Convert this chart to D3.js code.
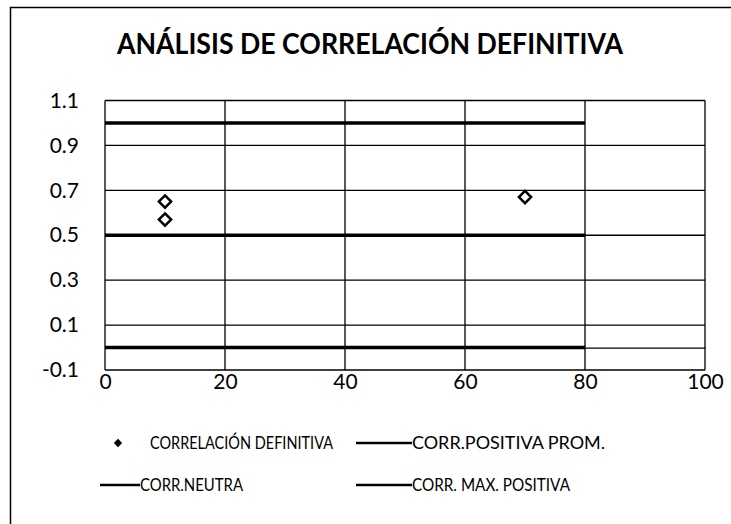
<!DOCTYPE html>
<html>
<head>
  <meta charset="utf-8">
  <title>Análisis de correlación definitiva</title>
  <script src="https://cdn.jsdelivr.net/npm/d3@7"></script>
  <style>
    body { margin: 0; background: #fff; }
    svg { display: block; font-family: Lato, "Open Sans", sans-serif; }
  </style>
</head>
<body>
<script>

// chart data
var title = "ANÁLISIS DE CORRELACIÓN DEFINITIVA";
var xTicks = [0, 20, 40, 60, 80, 100];
var yTicks = [-0.1, 0.1, 0.3, 0.5, 0.7, 0.9, 1.1];

var defX = [10, 10, 70];
var defY = [0.65, 0.57, 0.67];

var lineX = [0, 80];
var promY = [0.5, 0.5];     // CORR.POSITIVA PROM.
var neutraY = [0, 0];       // CORR.NEUTRA
var maxY = [1, 1];          // CORR. MAX. POSITIVA

var legendNames = ["CORRELACIÓN DEFINITIVA", "CORR.POSITIVA PROM.", "CORR.NEUTRA", "CORR. MAX. POSITIVA"];

var width = 731,
    height = 524;

var svg = d3.select("body").append("svg")
    .attr("width", width)
    .attr("height", height);

// outer frame (only top and left show in the scan)
svg.append("path")
    .attr("d", "M10.5," + height + "V7.5H" + width)
    .attr("fill", "none")
    .attr("stroke", "#000")
    .attr("stroke-width", 1.5);

svg.append("text")
    .attr("x", 370)
    .attr("y", 54)
    .attr("text-anchor", "middle")
    .attr("font-weight", "bold")
    .attr("font-size", 29)
    .attr("textLength", 506)
    .attr("lengthAdjust", "spacingAndGlyphs")
    .text(title);

var x = d3.scaleLinear().domain([0, 100]).range([105, 705]);
var y = d3.scaleLinear().domain([-0.1, 1.1]).range([370, 100.5]);

// gridlines
svg.append("g")
    .attr("stroke", "#000")
    .attr("stroke-width", 1.3)
  .selectAll("line")
    .data(yTicks)
  .enter().append("line")
    .attr("x1", x(0)).attr("x2", x(100))
    .attr("y1", function(d) { return y(d); })
    .attr("y2", function(d) { return y(d); });

svg.append("g")
    .attr("stroke", "#000")
    .attr("stroke-width", 1.3)
  .selectAll("line")
    .data(xTicks)
  .enter().append("line")
    .attr("x1", function(d) { return x(d); })
    .attr("x2", function(d) { return x(d); })
    .attr("y1", y(1.1)).attr("y2", y(-0.1));

// horizontal axis crosses at 0
svg.append("g")
    .attr("transform", "translate(0," + y(0) + ")")
    .call(d3.axisBottom(x).tickValues([]).tickSizeOuter(0))
    .select(".domain").attr("stroke-width", 1.3);

// tick labels
var yAxis = svg.append("g")
    .attr("transform", "translate(79,0)")
    .call(d3.axisLeft(y).tickValues(yTicks).tickSize(0)
      .tickFormat(function(d) { return d.toFixed(1); }));
yAxis.select(".domain").remove();
yAxis.selectAll("text")
    .attr("x", 0)
    .attr("font-size", 21)
    .attr("font-family", "Lato, sans-serif")
    .attr("fill", "#000");

var xAxis = svg.append("g")
    .attr("transform", "translate(0,371)")
    .call(d3.axisBottom(x).tickValues(xTicks).tickSize(0));
xAxis.select(".domain").remove();
xAxis.selectAll("text")
    .attr("font-size", 21)
    .attr("font-family", "Lato, sans-serif")
    .attr("fill", "#000");

// series lines
var line = d3.line()
    .x(function(d) { return x(d[0]); })
    .y(function(d) { return y(d[1]); });

[promY, neutraY, maxY].forEach(function(ys) {
  svg.append("path")
      .datum(d3.zip(lineX, ys))
      .attr("d", line)
      .attr("fill", "none")
      .attr("stroke", "#000")
      .attr("stroke-width", 3.5);
});

// scatter points
var diamond = d3.symbol().type(d3.symbolDiamond2).size(95);
svg.append("g")
  .selectAll("path")
    .data(d3.zip(defX, defY))
  .enter().append("path")
    .attr("transform", function(d) { return "translate(" + x(d[0]) + "," + y(d[1]) + ")"; })
    .attr("d", diamond)
    .attr("fill", "#fff")
    .attr("stroke", "#000")
    .attr("stroke-width", 2.5);

// legend
var legendPos = [[118, 443], [356, 443], [100, 485], [356, 485]];
var legendLen = [183, 193, 103, 158];
var legend = svg.append("g")
    .attr("font-size", 17)
    .selectAll("g")
    .data(legendNames)
  .enter().append("g")
    .attr("transform", function(d, i) { return "translate(" + legendPos[i][0] + "," + legendPos[i][1] + ")"; });

legend.each(function(d, i) {
  var g = d3.select(this);
  var tx;
  if (i === 0) {
    g.append("path")
        .attr("d", d3.symbol().type(d3.symbolDiamond2).size(45))
        .attr("fill", "#000");
    tx = 32;
  } else {
    tx = i === 2 ? 40 : 56;
    g.append("line")
        .attr("x1", 0).attr("x2", tx)
        .attr("stroke", "#000")
        .attr("stroke-width", 2.5);
  }
  g.append("text")
      .attr("x", tx)
      .attr("dy", "0.35em")
      .attr("textLength", legendLen[i])
      .attr("lengthAdjust", "spacingAndGlyphs")
      .text(d);
});

</script>
</body>
</html>
